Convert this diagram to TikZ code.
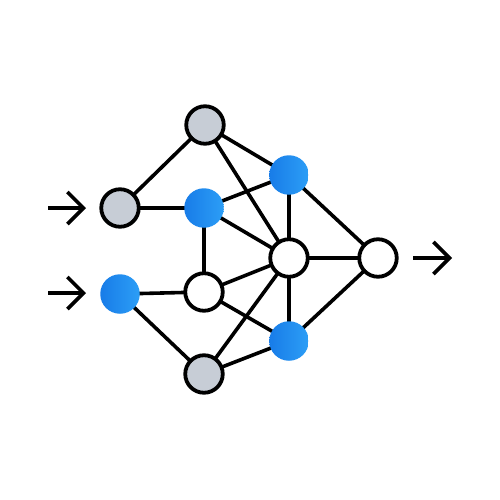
\documentclass[tikz,border=0pt]{standalone}
\usetikzlibrary{arrows.meta,backgrounds}
\definecolor{nodeblueA}{RGB}{24,124,232}
\definecolor{nodeblueB}{RGB}{44,158,246}
\definecolor{nodegray}{RGB}{199,205,214}
\begin{document}
\begin{tikzpicture}[x=1pt,y=-1pt,
  edge/.style={line width=3.6pt},
  nd/.style={circle,inner sep=0pt,outer sep=0pt},
  graynode/.style={nd,minimum size=37.5pt,draw=black,line width=3.8pt,fill=nodegray},
  whitenode/.style={nd,minimum size=37.5pt,draw=black,line width=3.8pt,fill=white},
  bluenode/.style={nd,minimum size=39.5pt,left color=nodeblueA,right color=nodeblueB},
  inarrow/.style={line width=3.6pt,-{Straight Barb[length=16pt,width=32pt]}}
]
\node[graynode] (A) at (205,125) {};
\node[graynode] (B) at (120,208) {};
\node[bluenode] (C) at (204,208) {};
\node[bluenode] (D) at (289,175) {};
\node[whitenode] (E) at (289,258) {};
\node[whitenode] (F) at (378,258) {};
\node[whitenode] (G) at (204,292) {};
\node[bluenode] (H) at (120,294) {};
\node[bluenode] (I) at (289,341) {};
\node[graynode] (J) at (204,374) {};
\begin{pgfonlayer}{background}
\fill[white] (0,0) rectangle (500,500);
\draw[edge] (A.center) -- (B.center);
\draw[edge] (A.center) -- (D.center);
\draw[edge] (A.center) -- (E.center);
\draw[edge] (B.center) -- (C.center);
\draw[edge] (C.center) -- (D.center);
\draw[edge] (C.center) -- (E.center);
\draw[edge] (C.center) -- (G.center);
\draw[edge] (D.center) -- (E.center);
\draw[edge] (D.center) -- (F.center);
\draw[edge] (E.center) -- (F.center);
\draw[edge] (E.center) -- (G.center);
\draw[edge] (E.center) -- (I.center);
\draw[edge] (E.center) -- (J.center);
\draw[edge] (G.center) -- (H.center);
\draw[edge] (G.center) -- (I.center);
\draw[edge] (H.center) -- (J.center);
\draw[edge] (I.center) -- (J.center);
\draw[edge] (I.center) -- (F.center);
\end{pgfonlayer}
\useasboundingbox (0,0) rectangle (500,500);
\coordinate (in1a) at (48,208);
\coordinate (in1b) at (86,208);
\coordinate (in2a) at (48,293);
\coordinate (in2b) at (86,293);
\coordinate (outa) at (413,258);
\coordinate (outb) at (452,258);
\draw[inarrow] (in1a) -- (in1b);
\draw[inarrow] (in2a) -- (in2b);
\draw[inarrow] (outa) -- (outb);
\end{tikzpicture}
\end{document}
